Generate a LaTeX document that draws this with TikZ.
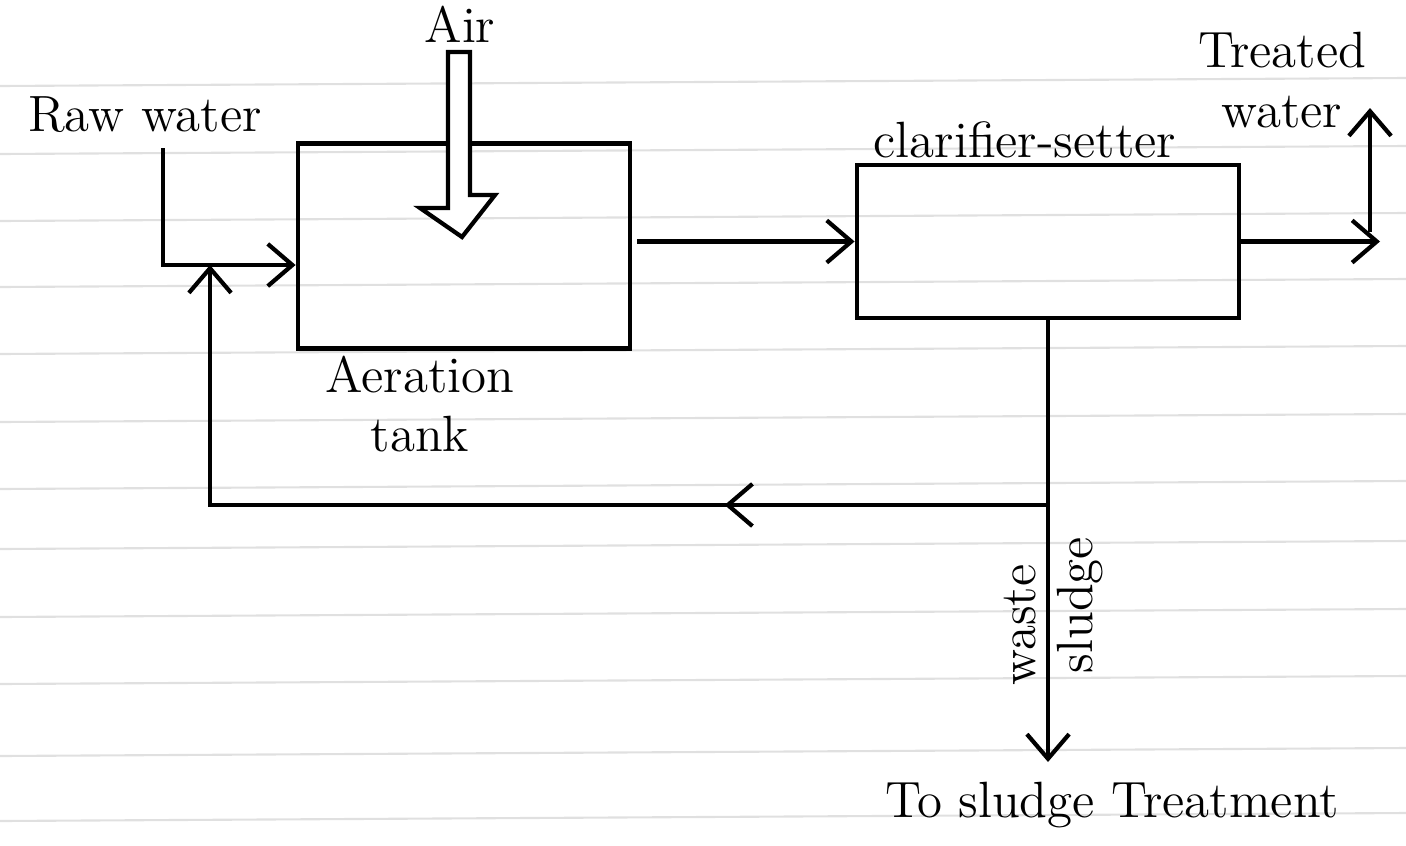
\documentclass[tikz,border=0pt]{standalone}
\usetikzlibrary{arrows.meta,decorations.markings,calc}
\begin{document}
\begin{tikzpicture}[x=0.01cm,y=-0.01cm,
  box/.style={draw,line width=1.3pt,inner sep=0pt},
  flow/.style={line width=1.2pt,-{Straight Barb[length=7pt,width=12pt,line width=1.2pt]}},
  lbl/.style={font=\fontsize{14.5}{17}\selectfont,inner sep=1pt,align=center},
  rule/.style={draw=black!12,line width=0.6pt}]
\useasboundingbox (0,0) rectangle (1406,845);
% ruled paper lines
\foreach \y in {82,150,217,283,350,418,485,545,613,680,752,817}
  \draw[rule] (0,\y+4) -- (1406,\y-4);
% boxes
\node[box,minimum width=3.32cm,minimum height=2.05cm] (aer) at (464,246) {};
\node[box,minimum width=3.82cm,minimum height=1.53cm] (clar) at (1048,241.5) {};
% air arrow (hollow)
\draw[line width=1.2pt,fill=white,line join=miter]
  (448,52) -- (470,52) -- (470,195) -- (495,195) -- (462,237) -- (420,208) -- (448,208) -- cycle;
% coordinates
\coordinate (rw) at (163,148);
\coordinate (rj) at (210,265);
\coordinate (sj) at (1048,505);
\coordinate (st) at (1048,762);
\coordinate (out) at (1380,241.5);
\coordinate (tb) at (1370,232);
\coordinate (tw) at (1370,108);
% connectors
\draw[flow] (rw) |- ([yshift=-0.19cm]aer.west);
\draw[flow,postaction={decorate},decoration={markings,mark=at position 0.3 with {\arrow{Straight Barb[length=7pt,width=12pt,line width=1.2pt]}}}] (sj) -| (rj);
\draw[flow] ([xshift=0.05cm]aer.east |- clar.west) -- (clar.west);
\draw[flow] (clar.east) -- (out);
\draw[flow] (tb) -- (tw);
\draw[flow] (clar.south) -- (st);
% labels
\node[lbl] (lair) at (460,24) {Air};
\node[lbl] (lraw) at (145,115) {Raw water};
\node[lbl] (laer) at (420,404) {Aeration\\tank};
\node[lbl] (lclar) at (1025,140) {clarifier-setter};
\node[lbl] (ltw) at (1282,80) {Treated\\water};
\node[lbl,rotate=90] (lws) at (1020,625) {waste};
\node[lbl,rotate=90] (lsl) at (1080,605) {sludge};
\node[lbl] (lto) at (1112,805) {To sludge Treatment};
\end{tikzpicture}
\end{document}
